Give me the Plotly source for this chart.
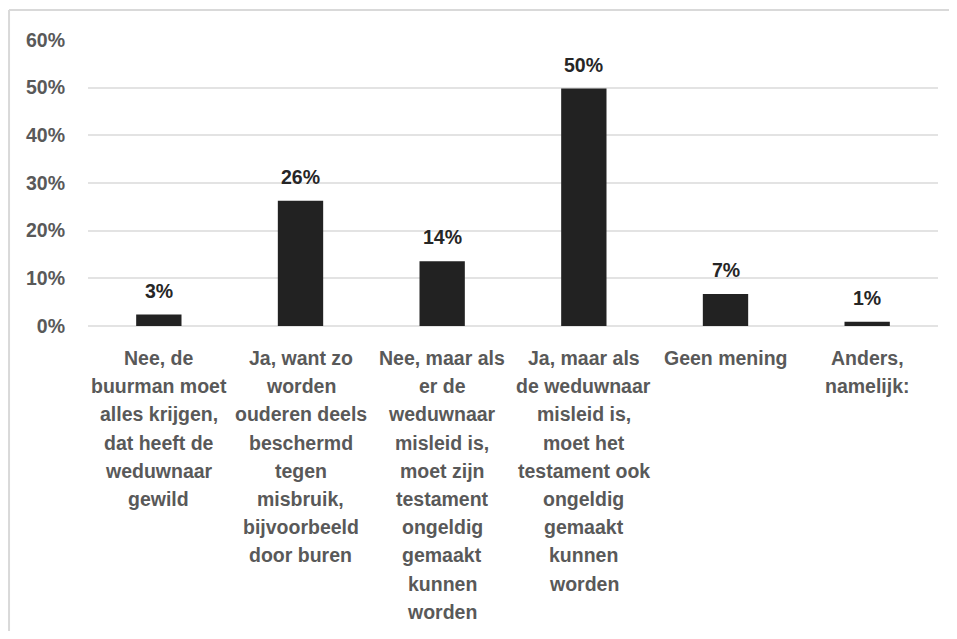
import plotly.graph_objects as go

categories = [
    "Nee, de buurman moet alles krijgen, dat heeft de weduwnaar gewild",
    "Ja, want zo worden ouderen deels beschermd tegen misbruik, bijvoorbeeld door buren",
    "Nee, maar als er de weduwnaar misleid is, moet zijn testament ongeldig gemaakt kunnen worden",
    "Ja, maar als de weduwnaar misleid is, moet het testament ook ongeldig gemaakt kunnen worden",
    "Geen mening",
    "Anders, namelijk:",
]
label_lines = [
    ["Nee, de", "buurman moet", "alles krijgen,", "dat heeft de", "weduwnaar", "gewild"],
    ["Ja, want zo", "worden", "ouderen deels", "beschermd", "tegen", "misbruik,", "bijvoorbeeld", "door buren"],
    ["Nee, maar als", "er de", "weduwnaar", "misleid is,", "moet zijn", "testament", "ongeldig", "gemaakt", "kunnen", "worden"],
    ["Ja, maar als", "de weduwnaar", "misleid is,", "moet het", "testament ook", "ongeldig", "gemaakt", "kunnen", "worden"],
    ["Geen mening"],
    ["Anders,", "namelijk:"],
]
values = [0.024, 0.263, 0.136, 0.498, 0.067, 0.009]
value_labels = ["3%", "26%", "14%", "50%", "7%", "1%"]
y_ticks = [0, 0.1, 0.2, 0.3, 0.4, 0.5, 0.6]
y_tick_labels = ["0%", "10%", "20%", "30%", "40%", "50%", "60%"]

FONT = "Liberation Sans, Arial, Helvetica, sans-serif"
AXIS_COLOR = "#595959"
LABEL_COLOR = "#262626"

fig = go.Figure(
    go.Bar(
        x=categories,
        y=values,
        marker=dict(color="#222222", line=dict(width=0)),
        width=0.32,
        hoverinfo="skip",
    )
)

annotations = []
for cat, val, lab in zip(categories, values, value_labels):
    annotations.append(dict(
        x=cat, y=val, xref="x", yref="y", text=lab, showarrow=False,
        yanchor="middle", xanchor="center", yshift=24,
        font=dict(family=FONT, size=19.5, color=LABEL_COLOR, weight="bold"),
    ))
for cat, lines in zip(categories, label_lines):
    for i, line in enumerate(lines):
        annotations.append(dict(
            x=cat, y=0, xref="x", yref="y", text=line, showarrow=False,
            yanchor="middle", xanchor="center", yshift=-(32 + i * 28.2),
            font=dict(family=FONT, size=19.5, color=AXIS_COLOR, weight="bold"),
        ))

border = dict(color="#d9d9d9", width=2)
fig.update_layout(
    width=941,
    height=623,
    margin=dict(l=80, r=11, t=32, b=305),
    plot_bgcolor="white",
    paper_bgcolor="white",
    showlegend=False,
    annotations=annotations,
    shapes=[
        dict(type="line", xref="paper", yref="paper",
             x0=-0.0929, x1=1.05, y0=1.105, y1=1.105, line=border, layer="below"),
        dict(type="line", xref="paper", yref="paper",
             x0=-0.0929, x1=-0.0929, y0=-1.2, y1=1.105, line=border, layer="below"),
    ],
    xaxis=dict(
        showticklabels=False, showgrid=False, zeroline=False, showline=False, ticks="",
        fixedrange=True,
    ),
    yaxis=dict(
        range=[0, 0.6],
        tickvals=y_ticks,
        ticktext=y_tick_labels,
        showgrid=True,
        gridcolor="#e3e3e3",
        gridwidth=1.5,
        zeroline=True,
        zerolinecolor="#e3e3e3",
        zerolinewidth=1.5,
        showline=False,
        ticks="",
        ticklabelstandoff=22,
        tickfont=dict(family=FONT, size=19.5, color=AXIS_COLOR, weight="bold"),
        fixedrange=True,
    ),
)

fig.write_html("out.html")
